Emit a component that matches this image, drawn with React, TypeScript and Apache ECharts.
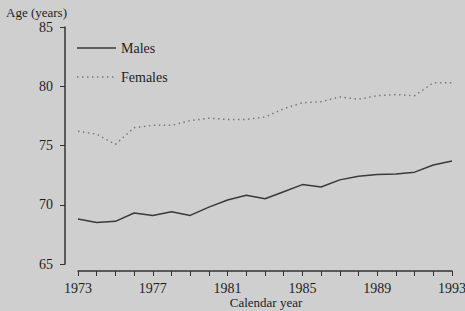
import React, { useEffect, useRef } from "react";
import * as echarts from "echarts";

const years = [
  "1973", "1974", "1975", "1976", "1977", "1978", "1979", "1980", "1981", "1982",
  "1983", "1984", "1985", "1986", "1987", "1988", "1989", "1990", "1991", "1992", "1993",
];
const males = [
  68.8, 68.5, 68.6, 69.3, 69.1, 69.4, 69.1, 69.8, 70.4, 70.8,
  70.5, 71.1, 71.7, 71.5, 72.1, 72.4, 72.55, 72.6, 72.75, 73.35, 73.7,
];
const females = [
  76.2, 75.95, 75.1, 76.5, 76.7, 76.7, 77.1, 77.3, 77.2, 77.2,
  77.4, 78.1, 78.6, 78.7, 79.1, 78.9, 79.2, 79.3, 79.2, 80.3, 80.3,
];
const yTicks = { min: 65, max: 85, interval: 5 };

const FONT = "'Liberation Serif', 'DejaVu Serif', serif";
const INK = "#1e1e1e";

export default function App() {
  const ref = useRef<HTMLDivElement>(null);
  useEffect(() => {
    const chart = echarts.init(ref.current!, undefined, { renderer: "svg" });
    chart.setOption({
      animation: false,
      backgroundColor: "#cfcfcf",
      textStyle: { fontFamily: FONT, color: INK },
      grid: { left: 78, right: 13, top: 27, bottom: 47, containLabel: false, outerBoundsMode: "none" },
      xAxis: {
        type: "category",
        data: years,
        boundaryGap: false,
        offset: 7,
        axisLine: { lineStyle: { color: "#333", width: 1.5 } },
        axisTick: { interval: 0, length: 5, lineStyle: { color: "#333", width: 1 } },
        axisLabel: { interval: 3, fontFamily: FONT, fontSize: 14, color: INK, margin: 10 },
        splitLine: { show: false },
      },
      yAxis: {
        type: "value",
        min: yTicks.min,
        max: yTicks.max,
        interval: yTicks.interval,
        offset: 13,
        axisLine: { show: true, lineStyle: { color: "#333", width: 1.5 } },
        axisTick: { show: true, length: 5, lineStyle: { color: "#333", width: 1 } },
        axisLabel: { fontFamily: FONT, fontSize: 14, color: INK, margin: 12 },
        splitLine: { show: false },
      },
      graphic: [
        { type: "text", left: 6, top: 6, style: { text: "Age (years)", font: `13px ${FONT}`, fill: INK } },
        { type: "text", x: 266, y: 296, style: { text: "Calendar year", font: `13px ${FONT}`, fill: INK, align: "center", verticalAlign: "top" } },
        { type: "line", shape: { x1: 77, y1: 48, x2: 116, y2: 48 }, style: { stroke: "#3a3a3a", lineWidth: 1.5 } },
        { type: "text", left: 121, top: 41, style: { text: "Males", font: `14px ${FONT}`, fill: INK } },
        { type: "line", shape: { x1: 77, y1: 77, x2: 116, y2: 77 }, style: { stroke: "#7a7a7a", lineWidth: 1.5, lineDash: [1.5, 3.5] } },
        { type: "text", left: 121, top: 70, style: { text: "Females", font: `14px ${FONT}`, fill: INK } },
      ],
      series: [
        {
          name: "Males",
          type: "line",
          data: males,
          showSymbol: false,
          lineStyle: { color: "#3a3a3a", width: 1.5 },
        },
        {
          name: "Females",
          type: "line",
          data: females,
          showSymbol: false,
          lineStyle: { color: "#7a7a7a", width: 1.5, type: [1.5, 3.5] },
        },
      ],
    });
    return () => chart.dispose();
  }, []);
  return (
    <div
      ref={ref}
      style={{ position: "absolute", left: 0, top: 0, width: 465, height: 311 }}
    />
  );
}
